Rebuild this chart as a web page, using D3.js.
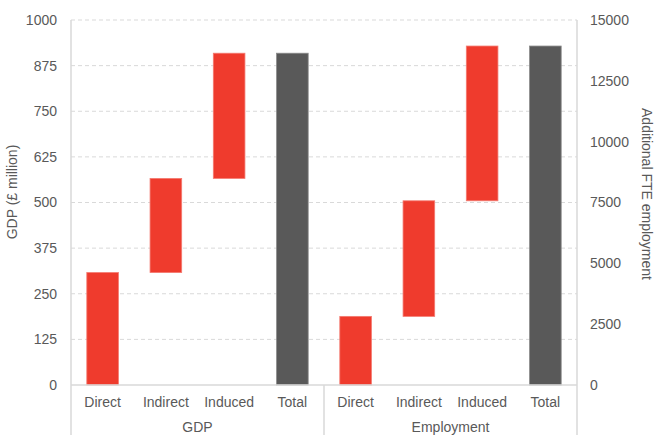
<!DOCTYPE html>
<html>
<head>
<meta charset="utf-8">
<script src="https://cdn.jsdelivr.net/npm/d3@7"></script>
<style>
  html, body { margin: 0; padding: 0; background: #fff; }
  svg text { font-family: "Liberation Sans", Arial, sans-serif; fill: #595959; }
</style>
</head>
<body>
<svg id="chart" width="654" height="435"></svg>
<script>
  // data
  const groups = ["GDP", "Employment"];
  const categories = ["Direct", "Indirect", "Induced", "Total"];
  const gdpValues = [308, 258, 343, 909];            // £ million
  const employmentValues = [2820, 4750, 6360, 13930]; // FTE
  const gdpTicks = [0, 125, 250, 375, 500, 625, 750, 875, 1000];
  const empTicks = [0, 2500, 5000, 7500, 10000, 12500, 15000];

  const svg = d3.select("#chart");
  const W = 654, H = 435;
  const margin = { top: 20, right: 77, bottom: 50, left: 71 };
  const width = W - margin.left - margin.right;
  const height = H - margin.top - margin.bottom;

  const g = svg.append("g").attr("transform", `translate(${margin.left},${margin.top})`);

  const x0 = d3.scaleBand().domain(groups).range([0, width]);
  const x1 = d3.scaleBand().domain(categories).range([0, x0.bandwidth()])
    .paddingInner(0.5).paddingOuter(0.25);

  const yL = d3.scaleLinear().domain([0, 1000]).range([height, 0]);
  const yR = d3.scaleLinear().domain([0, 15000]).range([height, 0]);

  // gridlines
  g.append("g")
    .selectAll("line")
    .data(gdpTicks.filter(d => d > 0))
    .enter().append("line")
    .attr("x1", 0).attr("x2", width)
    .attr("y1", d => yL(d)).attr("y2", d => yL(d))
    .attr("stroke", "#d9d9d9")
    .attr("stroke-dasharray", "4,3");

  // waterfall steps
  function steps(vals, scale, group) {
    let cum = 0;
    return vals.map((v, i) => {
      const isTotal = categories[i] === "Total";
      const start = isTotal ? 0 : cum;
      const end = isTotal ? v : cum + v;
      if (!isTotal) cum += v;
      return { group, cat: categories[i], start, end, scale, isTotal };
    });
  }
  const bars = steps(gdpValues, yL, "GDP").concat(steps(employmentValues, yR, "Employment"));

  g.selectAll("rect.bar")
    .data(bars)
    .enter().append("rect")
    .attr("class", "bar")
    .attr("x", d => x0(d.group) + x1(d.cat))
    .attr("width", x1.bandwidth())
    .attr("y", d => d.scale(d.end))
    .attr("height", d => d.scale(d.start) - d.scale(d.end))
    .attr("fill", d => d.isTotal ? "#595959" : "#ef3b2d")
    .attr("stroke", d => d.isTotal ? "#8a8a8a" : "#f47a70")
    .attr("stroke-width", 0.8);

  // left axis
  const axL = g.append("g")
    .call(d3.axisLeft(yL).tickValues(gdpTicks).tickSize(0).tickPadding(14).tickFormat(d3.format("d")));
  axL.select(".domain").remove();
  axL.selectAll("text").style("font-size", "14px").attr("fill", "#595959");

  // right axis
  const axR = g.append("g")
    .attr("transform", `translate(${width},0)`)
    .call(d3.axisRight(yR).tickValues(empTicks).tickSize(0).tickPadding(13).tickFormat(d3.format("d")));
  axR.select(".domain").remove();
  axR.selectAll("text").style("font-size", "14px").attr("fill", "#595959");

  // frame lines
  const lineColor = "#d9d9d9";
  g.append("line").attr("x1", 0).attr("x2", width).attr("y1", height).attr("y2", height)
    .attr("stroke", lineColor).attr("stroke-width", 1.5);
  [0, x0("Employment"), width].forEach((xx, i) => {
    g.append("line")
      .attr("x1", xx).attr("x2", xx)
      .attr("y1", i === 1 ? height : 0).attr("y2", H - margin.top)
      .attr("stroke", lineColor).attr("stroke-width", 1.5);
  });

  // category labels
  groups.forEach(grp => {
    g.selectAll(null)
      .data(categories)
      .enter().append("text")
      .attr("x", d => x0(grp) + x1(d) + x1.bandwidth() / 2)
      .attr("y", height + 22)
      .attr("text-anchor", "middle")
      .style("font-size", "14px")
      .text(d => d);
  });

  // group labels
  g.selectAll("text.group")
    .data(groups)
    .enter().append("text")
    .attr("class", "group")
    .attr("x", d => x0(d) + x0.bandwidth() / 2)
    .attr("y", height + 47)
    .attr("text-anchor", "middle")
    .style("font-size", "14px")
    .text(d => d);

  // axis titles
  svg.append("text")
    .attr("transform", "translate(17,192) rotate(-90)")
    .attr("text-anchor", "middle")
    .style("font-size", "14px")
    .text("GDP (£ million)");

  svg.append("text")
    .attr("transform", "translate(642,194) rotate(90)")
    .attr("text-anchor", "middle")
    .style("font-size", "14px")
    .text("Additional FTE employment");
</script>
</body>
</html>
